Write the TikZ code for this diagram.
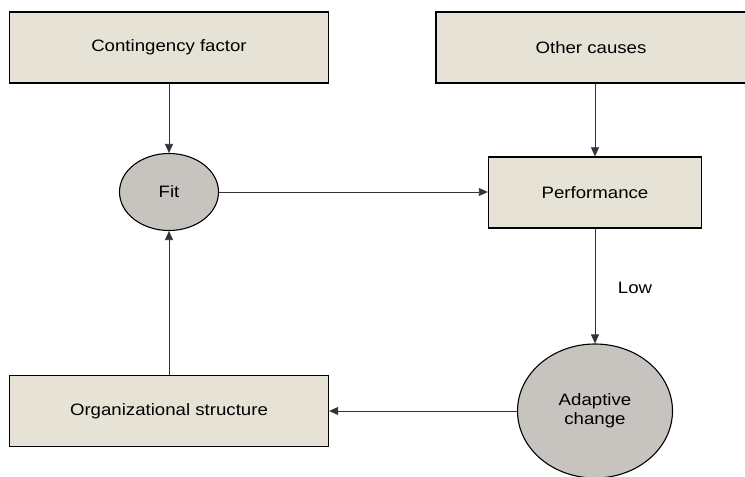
\documentclass[tikz,border=0pt]{standalone}
\usepackage{fontspec}
\setmainfont[FakeStretch=1.13]{Liberation Sans}
\usetikzlibrary{arrows.meta,shapes.geometric}
\definecolor{boxfill}{RGB}{230,227,214}
\definecolor{ellfill}{RGB}{199,195,191}
\begin{document}
\begin{tikzpicture}[x=1bp,y=-1bp,
  txt/.style={font=\fontsize{16.5bp}{19bp}\selectfont},
  box/.style={txt,draw=black,line width=1.3bp,fill=boxfill,rectangle,minimum height=71bp,inner sep=0pt},
  ell/.style={txt,draw=black,line width=1.1bp,fill=ellfill,ellipse,inner sep=0pt,align=center},
  conn/.style={draw=black!80,line width=0.8bp,-{Triangle[length=9bp,width=8bp]}}]
\useasboundingbox (0,0) rectangle (745,477);
\node[box,minimum width=319bp] (cf) at (169,47.5) {Contingency factor};
\node[box,minimum width=310bp] (oc) at (591,47.5) {Other causes};
\node[box,minimum width=213bp] (perf) at (595,192.5) {Performance};
\node[ell,minimum width=99bp,minimum height=77bp] (fit) at (169,192) {Fit};
\node[box,minimum width=319bp] (org) at (169,411) {Organizational structure};
\node[ell,minimum width=155bp,minimum height=134bp] (ac) at (595,411) {Adaptive\\change};
\node[txt] (low) at (635,288) {Low};
\draw[conn] (cf.south) -- (fit.north);
\draw[conn] (perf.north |- oc.south) -- (perf.north);
\draw[conn] (fit.east) -- (fit.east -| perf.west);
\draw[conn] (perf.south) -- (ac.north);
\draw[conn] (ac.west) -- (ac.west -| org.east);
\draw[conn] (org.north) -- (fit.south);
\end{tikzpicture}
\end{document}
